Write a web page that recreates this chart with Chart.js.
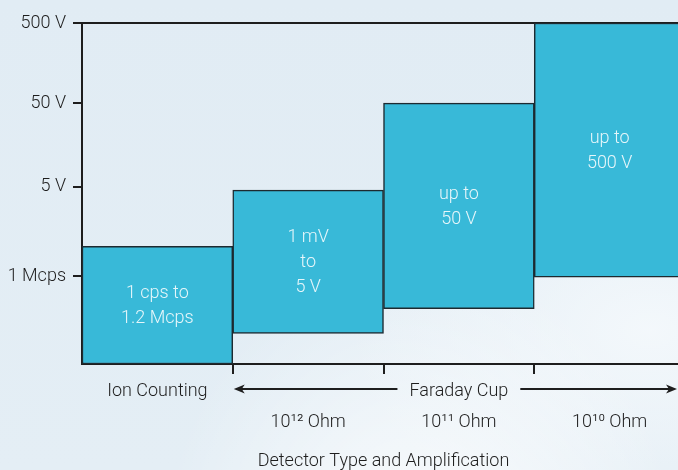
<!DOCTYPE html>
<html>
<head>
<meta charset="utf-8">
<script src="https://cdn.jsdelivr.net/npm/chart.js@4"></script>
<style>
  html, body { margin: 0; padding: 0; width: 678px; height: 470px; overflow: hidden; }
  body {
    background:
      radial-gradient(ellipse 260px 300px at 420px 560px, rgba(255,255,255,0.85), rgba(255,255,255,0) 100%),
      radial-gradient(ellipse 300px 200px at 650px 330px, rgba(245,249,252,0.9), rgba(245,249,252,0) 100%),
      linear-gradient(180deg, #e1ecf4 0%, #e4eef5 100%);
  }
  #wrap { width: 678px; height: 470px; overflow: hidden; }
  canvas { display: block; }
</style>
</head>
<body>
<div id="wrap"><canvas id="c" width="685" height="470"></canvas></div>
<script>
const categories = ['Ion Counting', '10¹² Ohm', '10¹¹ Ohm', '10¹⁰ Ohm'];
const rowOne = ['Ion Counting', '', 'Faraday Cup', ''];
const rowTwo = ['', '10¹² Ohm', '10¹¹ Ohm', '10¹⁰ Ohm'];
const rangeLow = [0, 0.36, 0.65, 1.02];
const rangeHigh = [1.38, 2.04, 3.06, 4.0];
const tickValues = [1.03, 2.08, 3.06, 4.0];
const tickLabels = ['1 Mcps', '5 V', '50 V', '500 V'];
const barText = [['1 cps to', '1.2 Mcps'], ['1 mV', 'to', '5 V'], ['up to', '50 V'], ['up to', '500 V']];

const FONT = 'Roboto, "Liberation Sans", sans-serif';
const INK = '#1e1e1e';
const VIEW_W = 678;

const barLabels = {
  id: 'barLabels',
  afterDatasetsDraw(chart) {
    const ctx = chart.ctx;
    const meta = chart.getDatasetMeta(0);
    ctx.save();
    ctx.font = '300 18px ' + FONT;
    ctx.fillStyle = '#e6f6fa';
    ctx.textAlign = 'center';
    ctx.textBaseline = 'middle';
    meta.data.forEach((bar, i) => {
      const lines = barText[i];
      const cy = (bar.y + bar.base) / 2 + 1;
      const lh = 25;
      lines.forEach((t, k) => {
        ctx.fillText(t, bar.x, cy + (k - (lines.length - 1) / 2) * lh);
      });
    });
    ctx.restore();
  }
};

const faradayArrow = {
  id: 'faradayArrow',
  afterDraw(chart) {
    const ctx = chart.ctx;
    const xs = chart.scales.x;
    const meta = chart.getDatasetMeta(0);
    const x0 = (meta.data[0].x + meta.data[1].x) / 2 + 1;
    const x1 = VIEW_W - 1;
    const y = 389;
    ctx.save();
    ctx.font = '300 18px ' + FONT;
    const cx = xs.getPixelForValue(2);
    const w = ctx.measureText(rowOne[2]).width;
    const g0 = cx - w / 2 - 12, g1 = cx + w / 2 + 12;
    ctx.strokeStyle = INK;
    ctx.fillStyle = INK;
    ctx.lineWidth = 2;
    ctx.beginPath();
    ctx.moveTo(x0 + 6, y); ctx.lineTo(g0, y);
    ctx.moveTo(g1, y); ctx.lineTo(x1 - 6, y);
    ctx.stroke();
    ctx.beginPath();
    ctx.moveTo(x0, y); ctx.lineTo(x0 + 11, y - 4.5); ctx.lineTo(x0 + 8, y); ctx.lineTo(x0 + 11, y + 4.5); ctx.closePath();
    ctx.fill();
    ctx.beginPath();
    ctx.moveTo(x1, y); ctx.lineTo(x1 - 11, y - 4.5); ctx.lineTo(x1 - 8, y); ctx.lineTo(x1 - 11, y + 4.5); ctx.closePath();
    ctx.fill();
    ctx.restore();
  }
};

new Chart(document.getElementById('c'), {
  type: 'bar',
  data: {
    labels: categories,
    datasets: [{
      data: rangeLow.map((v, i) => [v, rangeHigh[i]]),
      backgroundColor: '#38b9d8',
      borderColor: '#1d2a30',
      borderWidth: 1.5,
      borderSkipped: false,
      barPercentage: 1,
      categoryPercentage: 1
    }]
  },
  options: {
    responsive: false,
    animation: false,
    devicePixelRatio: 1,
    layout: { padding: { top: 23, right: 0, bottom: 0, left: 0 } },
    plugins: { legend: { display: false }, tooltip: { enabled: false } },
    scales: {
      x: {
        offset: true,
        afterFit(s) { s.height = 106; },
        border: { display: true, color: INK, width: 2 },
        grid: {
          offset: true,
          drawOnChartArea: false,
          drawTicks: true,
          tickLength: 10,
          lineWidth: 2,
          tickColor: (c) => (c.index === 0 ? 'rgba(0,0,0,0)' : INK),
          color: INK
        },
        ticks: {
          color: INK,
          font: { family: FONT, size: 18, weight: '300', lineHeight: 1.72 },
          padding: 2,
          maxRotation: 0,
          autoSkip: false,
          callback: (v, i) => [rowOne[i], rowTwo[i]]
        },
        title: {
          display: true,
          text: 'Detector Type and Amplification',
          color: INK,
          font: { family: FONT, size: 18, weight: '300', lineHeight: 1.0 },
          padding: { top: 0, bottom: 0 }
        }
      },
      y: {
        min: 0,
        max: 4,
        afterFit(s) { s.width = 82; },
        afterBuildTicks(s) { s.ticks = tickValues.map(v => ({ value: v })); },
        border: { display: true, color: INK, width: 2 },
        grid: {
          lineWidth: 2,
          tickLength: 9,
          tickColor: INK,
          color: (c) => (c.tick && c.tick.value === 4.0 ? INK : 'rgba(0,0,0,0)')
        },
        ticks: {
          color: INK,
          padding: 7,
          font: { family: FONT, size: 18, weight: '300' },
          callback: (v) => {
            const i = tickValues.indexOf(v);
            return i >= 0 ? tickLabels[i] : '';
          }
        }
      }
    }
  },
  plugins: [barLabels, faradayArrow]
});
</script>
</body>
</html>
